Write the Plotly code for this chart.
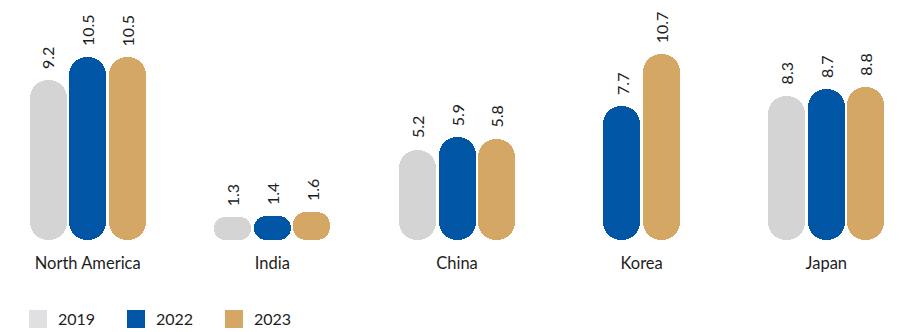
import plotly.graph_objects as go

# ---- data -------------------------------------------------------------
regions = ["North America", "India", "China", "Korea", "Japan"]
years = ["2019", "2022", "2023"]
values_2019 = [9.2, 1.3, 5.2, None, 8.3]
values_2022 = [10.5, 1.4, 5.9, 7.7, 8.7]
values_2023 = [10.5, 1.6, 5.8, 10.7, 8.8]
series = [values_2019, values_2022, values_2023]

# ---- styling / geometry ------------------------------------------------
colors = {"2019": "#D4D4D4", "2022": "#0055A5", "2023": "#D4A765"}
legend_colors = {"2019": "#E0E0E2", "2022": "#0055A5", "2023": "#D4A765"}
text_color = "#1E1E1E"
font_family = "Lato, 'Open Sans', sans-serif"

WIDTH, HEIGHT = 899, 332
PLOT_BOTTOM = 240            # pixel row of the zero line
PX_PER_UNIT = 17.4           # vertical scale
GROUP_PITCH = 184.65         # px between region centres
FIRST_CENTER = 87.7          # px of the first region centre
BAR_PX = 37                  # bar thickness
SLOT_PX = 39.5               # bar-to-bar step inside a group

y_max = PLOT_BOTTOM / PX_PER_UNIT
x_range = [-FIRST_CENTER / GROUP_PITCH, (WIDTH - FIRST_CENTER) / GROUP_PITCH]
px_to_x = 1.0 / GROUP_PITCH
bar_w = BAR_PX * px_to_x

fig = go.Figure()
annotations = []

for i, region in enumerate(regions):
    # regions with a missing year keep their remaining bars centred
    present = [(years[k], s[i]) for k, s in enumerate(series) if s[i] is not None]
    n = len(present)
    for j, (year, v) in enumerate(present):
        x = i + (j - (n - 1) / 2) * SLOT_PX * px_to_x
        h_px = v * PX_PER_UNIT
        # explicit base -> both ends rounded (pill shape)
        r = min(BAR_PX, h_px) / 2 - 0.05
        fig.add_trace(go.Bar(
            x=[x], y=[v], base=[0], width=bar_w, name=year,
            marker=dict(color=colors[year], line=dict(width=0), cornerradius=r),
            showlegend=False, hoverinfo="skip",
        ))
        annotations.append(dict(
            x=x, y=v, xref="x", yref="y", text=f"{v}",
            textangle=-90, showarrow=False, xanchor="center", yanchor="bottom",
            yshift=9, font=dict(family=font_family, size=16, color=text_color),
        ))

# legend entries
for year in years:
    fig.add_trace(go.Scatter(
        x=[None], y=[None], mode="markers", name=year,
        marker=dict(symbol="square", size=16, color=legend_colors[year],
                    line=dict(width=2, color=legend_colors[year])),
        hoverinfo="skip",
    ))

fig.update_layout(
    width=WIDTH, height=HEIGHT,
    margin=dict(l=0, r=0, t=0, b=HEIGHT - PLOT_BOTTOM, pad=0),
    paper_bgcolor="white", plot_bgcolor="white",
    barmode="overlay", bargap=0,
    font=dict(family=font_family, size=16, color=text_color),
    showlegend=True,
    legend=dict(
        orientation="h", xref="container", yref="container",
        x=18 / WIDTH, xanchor="left", y=1 - 319 / HEIGHT, yanchor="middle",
        entrywidth=53, entrywidthmode="pixels",
        font=dict(family=font_family, size=16, color=text_color),
        bgcolor="rgba(0,0,0,0)", borderwidth=0, itemclick=False,
    ),
    xaxis=dict(
        range=x_range, tickvals=list(range(len(regions))), ticktext=regions,
        showgrid=False, zeroline=False, showline=False, ticks="",
        ticklabelstandoff=11, tickfont=dict(family=font_family, size=16.5, color=text_color),
        fixedrange=True,
    ),
    yaxis=dict(range=[0, y_max], visible=False, fixedrange=True),
    annotations=annotations,
)

fig.write_html("out.html", config={"displayModeBar": False})
